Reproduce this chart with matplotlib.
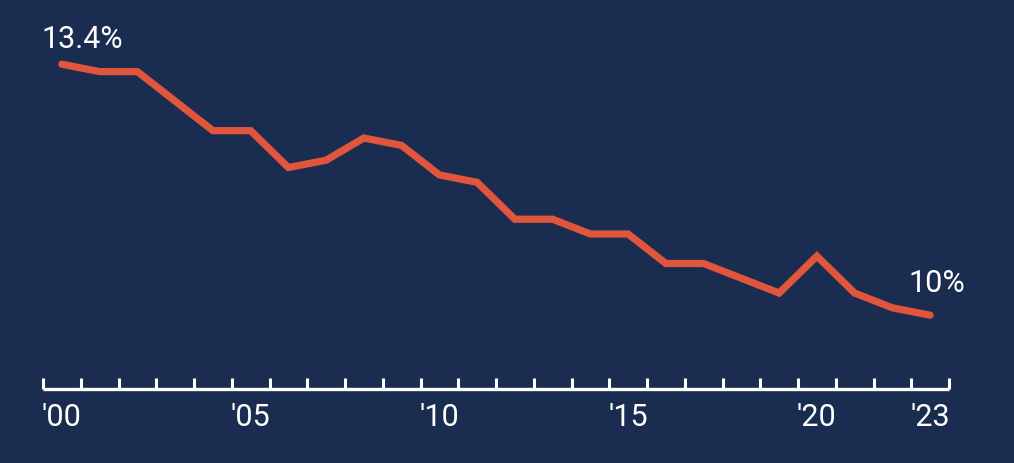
import matplotlib.pyplot as plt
from matplotlib.ticker import FixedLocator, FixedFormatter

# --- DATA ---
YEARS = list(range(2000, 2024))
RATE = [13.4, 13.3, 13.3, 12.9, 12.5, 12.5, 12.0, 12.1, 12.4, 12.3,
        11.9, 11.8, 11.3, 11.3, 11.1, 11.1, 10.7, 10.7, 10.5, 10.3,
        10.8, 10.3, 10.1, 10.0]
LABEL_YEARS = [2000, 2005, 2010, 2015, 2020, 2023]
LABEL_TEXT = ["'00", "'05", "'10", "'15", "'20", "'23"]

BG = '#1a2d50'
LINE = '#e0553b'
FONT = ['Roboto', 'DejaVu Sans']

plt.rcParams['font.family'] = FONT

fig = plt.figure(figsize=(10.14, 4.63), dpi=100, facecolor=BG)
ax = fig.add_axes([43 / 1014, 74 / 463, 906 / 1014, 389 / 463])
ax.set_facecolor(BG)

ax.plot(YEARS, RATE, color=LINE, linewidth=5.2, solid_capstyle='round',
        solid_joinstyle='miter', clip_on=False, zorder=3)

ax.set_xlim(1999.5, 2023.5)
ax.set_ylim(9.0, 14.27)

# spines: only the bottom axis line
for side in ['top', 'left', 'right']:
    ax.spines[side].set_visible(False)
ax.spines['bottom'].set_color('white')
ax.spines['bottom'].set_linewidth(2.4)
ax.spines['bottom'].set_capstyle('butt')

# tick marks sit on year boundaries, labels at the year centres
ax.xaxis.set_minor_locator(FixedLocator([y - 0.5 for y in YEARS] + [YEARS[-1] + 0.5]))
ax.xaxis.set_major_locator(FixedLocator(LABEL_YEARS))
ax.xaxis.set_major_formatter(FixedFormatter(LABEL_TEXT))
ax.tick_params(axis='x', which='minor', direction='in', length=8, width=2.2,
               color='white')
ax.tick_params(axis='x', which='major', length=0, pad=10, labelsize=22,
               labelcolor='white')
ax.set_yticks([])

# end-point labels
ax.annotate('13.4%', xy=(YEARS[0], RATE[0]), xytext=(-14.5, 11.5),
            textcoords='offset points', ha='left', va='baseline',
            color='white', fontsize=22)
ax.annotate('10%', xy=(YEARS[-1], RATE[-1]), xytext=(5, 17),
            textcoords='offset points', ha='center', va='baseline',
            color='white', fontsize=22)

fig.savefig('out.png', dpi=100, facecolor=BG)
